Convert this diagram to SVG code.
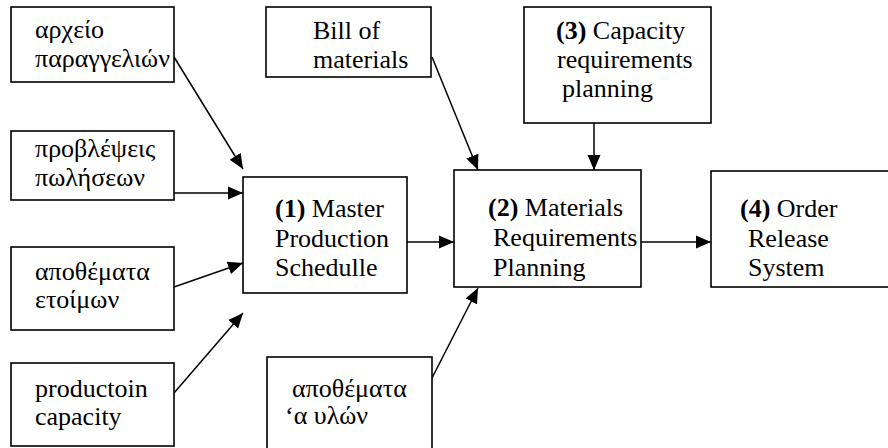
<svg xmlns="http://www.w3.org/2000/svg" width="888" height="448" viewBox="0 0 888 448">
<style>
  .box { fill: #ffffff; stroke: #000000; stroke-width: 1.6; }
  .t { font-family: 'Liberation Serif', 'DejaVu Serif', 'Times New Roman', Times, serif; font-size: 26px; fill: #000000; }
  .b { font-weight: bold; }
  .edge { fill: none; stroke: #000000; stroke-width: 1.5; marker-end: url(#arrow); }
</style>
<defs>
  <marker id="arrow" markerUnits="userSpaceOnUse" markerWidth="16" markerHeight="14" refX="15" refY="7" orient="auto">
    <path d="M0,0.5 L15,7 L0,13.5 Z" fill="#000000"/>
  </marker>
</defs>
<rect width="888" height="448" fill="#ffffff"/>

<g id="connectors">
  <line class="edge" x1="174" y1="57" x2="243" y2="169"/>
  <line class="edge" x1="174" y1="193" x2="243" y2="193"/>
  <line class="edge" x1="174" y1="287" x2="243" y2="263"/>
  <line class="edge" x1="174" y1="393" x2="243" y2="313"/>
  <line class="edge" x1="432" y1="57" x2="478" y2="170"/>
  <line class="edge" x1="594" y1="123" x2="594" y2="170"/>
  <line class="edge" x1="407" y1="242" x2="454" y2="242"/>
  <line class="edge" x1="641" y1="242" x2="711" y2="242"/>
  <line class="edge" x1="432" y1="378" x2="478" y2="288"/>
</g>

<g font-family="Liberation Serif, DejaVu Serif, serif">
<g id="order-file">
  <rect class="box" x="11" y="7" width="163" height="75"/>
  <text class="t" x="35" y="38">αρχείο</text>
  <text class="t" x="35" y="67">παραγγελιών</text>
</g>

<g id="sales-forecast">
  <rect class="box" x="11" y="131" width="163" height="69"/>
  <text class="t" x="35" y="157">προβλέψεις</text>
  <text class="t" x="35" y="186">πωλήσεων</text>
</g>

<g id="finished-stock">
  <rect class="box" x="11" y="247" width="163" height="83"/>
  <text class="t" x="35" y="280">αποθέματα</text>
  <text class="t" x="35" y="308">ετοίμων</text>
</g>

<g id="production-capacity">
  <rect class="box" x="11" y="363" width="163" height="83"/>
  <text class="t" x="35" y="397">productoin</text>
  <text class="t" x="35" y="425">capacity</text>
</g>

<g id="bill-of-materials">
  <rect class="box" x="266" y="7" width="165" height="70"/>
  <text class="t" x="313" y="39">Bill of</text>
  <text class="t" x="313" y="68">materials</text>
</g>

<g id="capacity-planning">
  <rect class="box" x="524" y="7" width="187" height="116"/>
  <text class="t" x="556" y="39"><tspan class="b">(3)</tspan> Capacity</text>
  <text class="t" x="557" y="68">requirements</text>
  <text class="t" x="562" y="97">planning</text>
</g>

<g id="master-production-schedule">
  <rect class="box" x="243" y="177" width="164" height="116"/>
  <text class="t" x="275" y="217"><tspan class="b">(1)</tspan> Master</text>
  <text class="t" x="275" y="247">Production</text>
  <text class="t" x="275" y="276">Schedulle</text>
</g>

<g id="materials-requirements-planning">
  <rect class="box" x="454" y="170" width="187" height="117"/>
  <text class="t" x="488" y="216"><tspan class="b">(2)</tspan> Materials</text>
  <text class="t" x="493" y="246">Requirements</text>
  <text class="t" x="493" y="276">Planning</text>
</g>

<g id="order-release-system">
  <rect class="box" x="711" y="171" width="190" height="116"/>
  <text class="t" x="740" y="217"><tspan class="b">(4)</tspan> Order</text>
  <text class="t" x="748" y="247">Release</text>
  <text class="t" x="748" y="276">System</text>
</g>

<g id="raw-material-stock">
  <rect class="box" x="267" y="357" width="165" height="100"/>
  <text class="t" x="292" y="397">αποθέματα</text>
  <text class="t" x="285" y="424">‘α υλών</text>
</g>
</g>
</svg>
